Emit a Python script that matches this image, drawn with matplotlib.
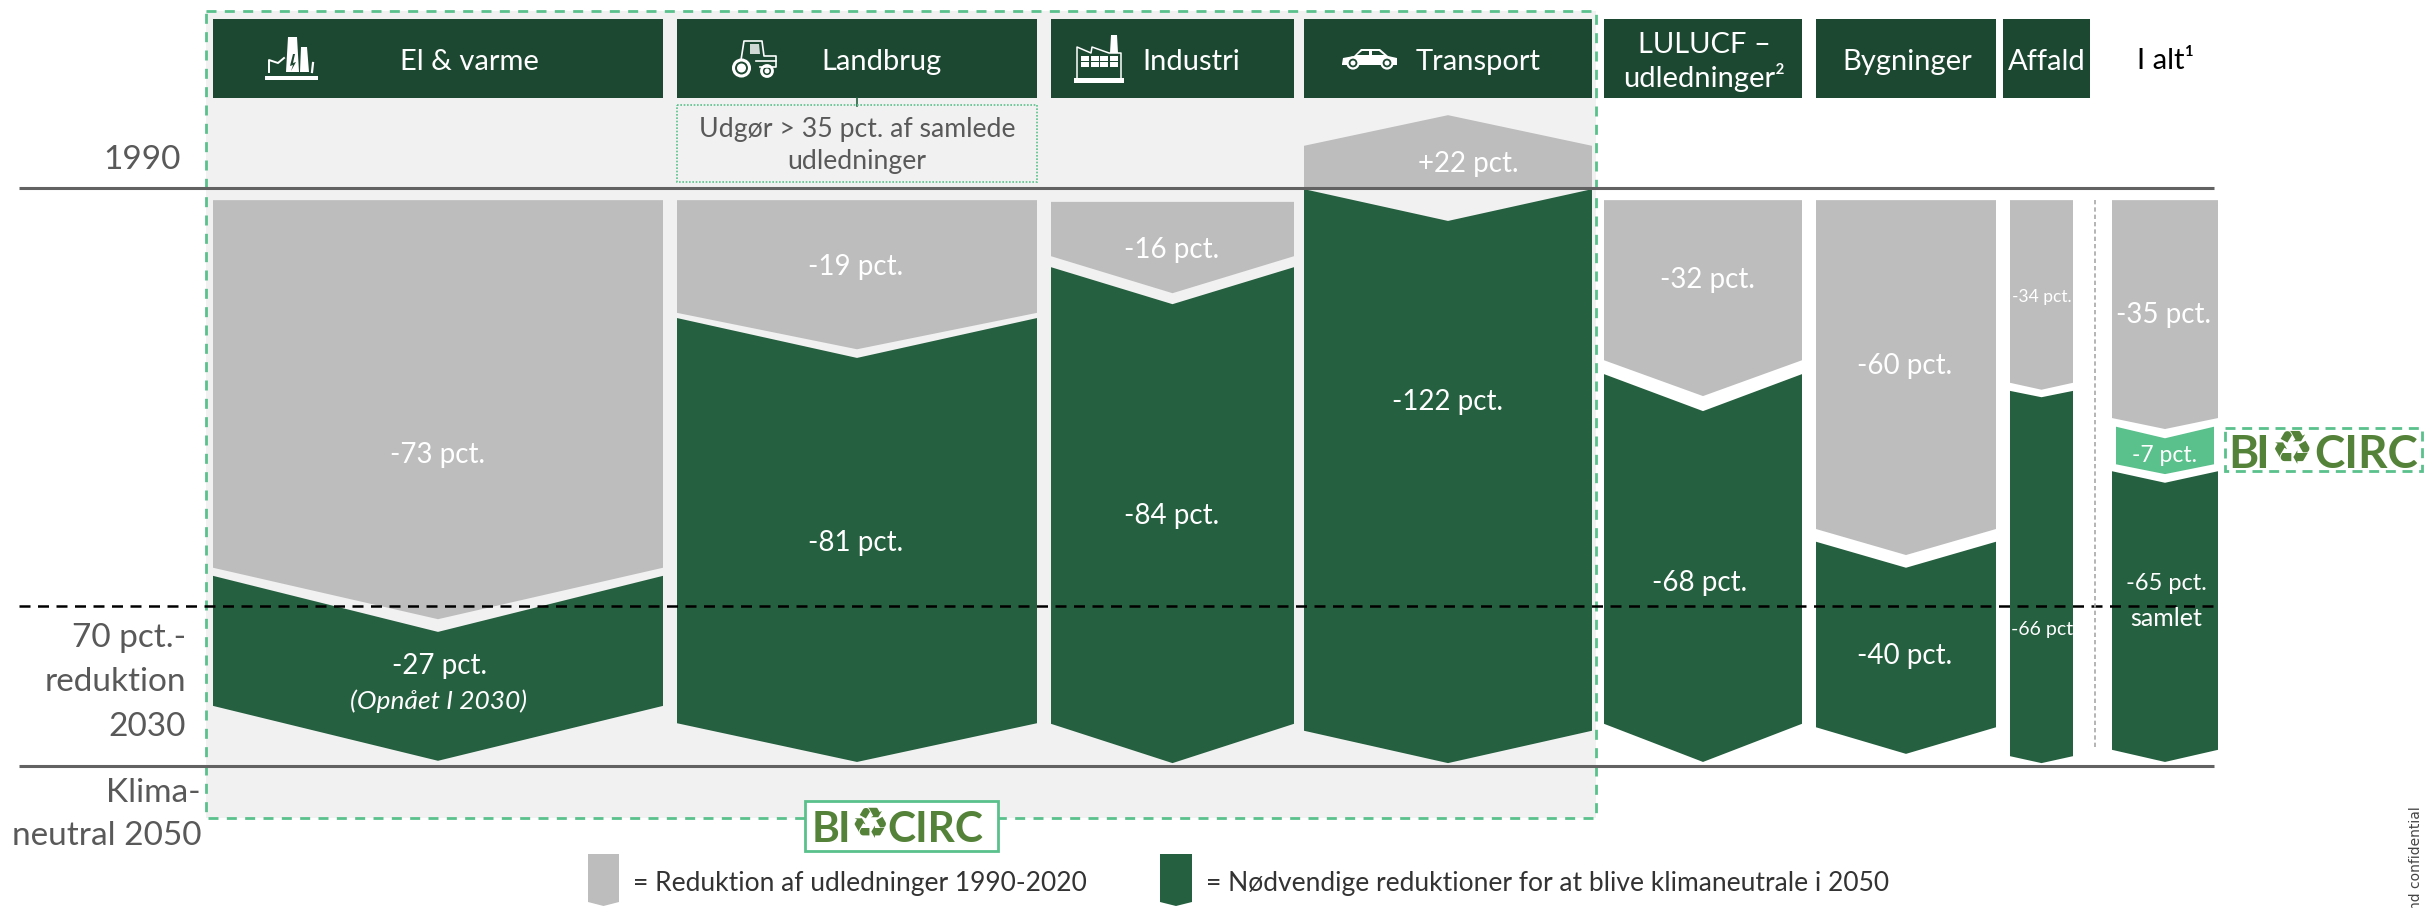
import matplotlib
matplotlib.use("Agg")
import matplotlib.pyplot as plt
from matplotlib.patches import Polygon, Rectangle, Circle

# ---------- data ----------
sectors = ["El & varme", "Landbrug", "Industri", "Transport",
           "LULUCF", "Bygninger", "Affald", "I alt"]
# column widths and the gap before each column (share of the chart's width)
col_widths = [450, 360, 243, 288, 198, 180, 63, 106]
col_gaps = [213, 14, 14, 10, 12, 14, 14, 39]
# levels: 1990 = 100, klimaneutral 2050 = 0
grey_top = [97.9, 97.9, 97.6, 112.6, 97.9, 97.9, 97.9, 97.9]
grey_shoulder = [34.3, 78.4, 88.2, 107.3, 70.2, 41.0, 66.3, 60.2]
grey_tip = [25.4, 72.1, 81.8, 100.0, 64.0, 36.5, 65.1, 58.3]
green_shoulder = [32.9, 77.5, 86.3, 99.8, 67.8, 38.8, 64.9, 51.0]
green_notch = [23.2, 70.6, 79.9, 94.3, 61.4, 34.3, 63.8, 49.0]
green_bottom = [10.4, 7.4, 7.3, 6.1, 7.3, 6.7, 1.7, 2.8]
green_tip = [0.9, 0.7, 0.5, 0.5, 0.7, 2.1, 0.5, 0.7]
# BioCirc's slice of the "I alt" column
bio_levels = [58.7, 56.7, 52.2, 50.5]

grey_labels = ["-73 pct.", "-19 pct.", "-16 pct.", "+22 pct.", "-32 pct.", "-60 pct.", "-34 pct.", "-35 pct."]
green_labels = ["-27 pct.", "-81 pct.", "-84 pct.", "-122 pct.", "-68 pct.", "-40 pct.", "-66 pct", "-65 pct."]
header_labels = ["El & varme", "Landbrug", "Industri", "Transport",
                 "LULUCF –\nudledninger²", "Bygninger", "Affald"]

# ---------- style ----------
W, H = 2433, 908
DARK, GREEN, GREY = "#1C4731", "#256040", "#BDBDBD"
MINT, PANEL, TXT, LOGO = "#5AC08C", "#F1F1F1", "#595959", "#558239"
FONT = ["Lato", "DejaVu Sans"]
plt.rcParams["font.family"] = FONT

fig = plt.figure(figsize=(W / 100, H / 100), dpi=100, facecolor="white")
def layer(z, level=False):
    a = fig.add_axes([0, 0, 1, 1], zorder=z)
    a.set_xlim(0, W)
    if level:
        a.set_ylim((766 - H) / 5.78, 766 / 5.78)
    else:
        a.set_ylim(H, 0)
    a.axis("off")
    a.patch.set_alpha(0)
    return a
bg, ax, fg = layer(0), layer(1, True), layer(2)

# panel
bg.add_patch(Rectangle((206, 11), 1390, 807, fc=PANEL, ec="none"))

# columns
lefts = []
x = 0
for w, g in zip(col_widths, col_gaps):
    x += g
    lefts.append(x)
    x += w

for i, (l, w) in enumerate(zip(lefts, col_widths)):
    r, c = l + w, l + w / 2
    if sectors[i] == "Transport":
        grey = [(l, grey_shoulder[i]), (c, grey_top[i]), (r, grey_shoulder[i]), (r, grey_tip[i]), (l, grey_tip[i])]
    else:
        grey = [(l, grey_top[i]), (r, grey_top[i]), (r, grey_shoulder[i]), (c, grey_tip[i]), (l, grey_shoulder[i])]
    ax.add_patch(Polygon(grey, closed=True, fc=GREY, ec="none"))
    ax.add_patch(Polygon([(l, green_shoulder[i]), (c, green_notch[i]), (r, green_shoulder[i]),
                          (r, green_bottom[i]), (c, green_tip[i]), (l, green_bottom[i])],
                         closed=True, fc=GREEN, ec="none"))
# BioCirc slice
l, w = lefts[-1] + 4, col_widths[-1] - 8
ax.add_patch(Polygon([(l, bio_levels[0]), (l + w / 2, bio_levels[1]), (l + w, bio_levels[0]),
                      (l + w, bio_levels[2]), (l + w / 2, bio_levels[3]), (l, bio_levels[2])],
                     closed=True, fc=MINT, ec="none"))

# headers
hdr_left = lefts[:6] + [2003]
hdr_width = col_widths[:6] + [87]
for l, w in zip(hdr_left, hdr_width):
    bg.add_patch(Rectangle((l, 19), w, 79, fc=DARK, ec="none"))
hdr_x = [469, 881, 1191, 1478, 1704, 1907, 2047]
for t, xx in zip(header_labels, hdr_x):
    fg.text(xx, 62, t, color="white", fontsize=21, ha="center", va="center", linespacing=1.22)
fg.text(2166, 61, "I alt¹", color="black", fontsize=21, ha="center", va="center")

# reference lines
for yy, x1 in [(188, 2214), (766, 2214)]:
    fg.plot([19, x1], [yy, yy], color="#626262", lw=2.2, solid_capstyle="butt")
fg.plot([19, 2213], [606, 606], color="black", lw=1.8, ls=(0, (4.4, 3.0)))
fg.plot([2095, 2095], [200, 748], color="#A8A8A8", lw=1.2, ls=(0, (2.6, 1.8)))

# panel's dashed frame
fg.add_patch(Rectangle((206, 11), 1390, 807, fc="none", ec=MINT, lw=2, ls=(0, (3.6, 3.0))))

# note box
bg.plot([857, 857], [98, 106], color=GREEN, lw=1.2)
fg.add_patch(Rectangle((677, 105), 360, 77, fc="none", ec=MINT, lw=1.2, ls=(0, (1, 1))))
fg.text(857, 130, "Udgør > 35 pct. af samlede", color=TXT, fontsize=19.2, ha="center", va="center")
fg.text(857, 162, "udledninger", color=TXT, fontsize=19.2, ha="center", va="center")

# value labels
grey_xy = [(438, 455), (856, 267), (1172, 250), (1468, 164), (1707, 280), (1905, 366), (2042, 297), (2163, 315)]
green_xy = [(439, 666), (856, 543), (1172, 516), (1448, 402), (1700, 583), (1905, 656), (2042, 629), (2166, 583)]
grey_fs = [20, 20, 20, 20, 20, 20, 12.5, 20]
green_fs = [20, 20, 20, 20, 20, 20, 14, 17]
for t, (xx, yy), fs in zip(grey_labels, grey_xy, grey_fs):
    fg.text(xx, yy, t, color="white", fontsize=fs, ha="center", va="center")
for t, (xx, yy), fs in zip(green_labels, green_xy, green_fs):
    fg.text(xx, yy, t, color="white", fontsize=fs, ha="center", va="center")
fg.text(439, 701, "(Opnået I 2030)", color="white", fontsize=19, style="italic", ha="center", va="center")
fg.text(2165, 455, "-7 pct.", color="white", fontsize=16.5, ha="center", va="center")
fg.text(2166, 618, "samlet", color="white", fontsize=18, ha="center", va="center")

# left labels
for t, xx, yy in [("1990", 181, 160), ("70 pct.-", 186, 638), ("reduktion", 186, 682),
                  ("2030", 186, 727), ("Klima-", 201, 793), ("neutral 2050", 201, 836)]:
    fg.text(xx, yy, t, color=TXT, fontsize=24, ha="right", va="center")

# legend
def legend_mark(l, r, colour):
    c = (l + r) / 2
    fg.add_patch(Polygon([(l, 854), (r, 854), (r, 902), (c, 906), (l, 902)], closed=True, fc=colour, ec="none"))
legend_mark(588, 619, GREY)
legend_mark(1160, 1192, GREEN)
fg.text(633, 883, "= Reduktion af udledninger 1990-2020", color="#333333", fontsize=19, ha="left", va="center")
fg.text(1206, 883, "= Nødvendige reduktioner for at blive klimaneutrale i 2050", color="#333333", fontsize=19, ha="left", va="center")

# logos
def logo(x_b, x_i, x_sym, x_circ, yy, fs, sym_fs):
    for t, xx in (("B", x_b), ("I", x_i), ("CIRC", x_circ)):
        fg.text(xx, yy, t, color=LOGO, fontsize=fs, weight="bold", ha="left", va="center_baseline")
    fg.text(x_sym, yy, "\u267b", color=LOGO, fontsize=sym_fs, family="DejaVu Sans", ha="center", va="center")
fg.add_patch(Rectangle((805, 801), 193, 50, fc="white", ec=MINT, lw=2))
logo(812, 838, 870, 887, 826, 30.5, 31)
fg.add_patch(Rectangle((2225, 428), 197, 43, fc="white", ec=MINT, lw=2, ls=(0, (3.6, 2.4))))
logo(2228, 2255, 2292, 2314, 451, 33, 34)

# rotated footer
fg.text(2416, 806, "nd confidential", rotation=90, family="DejaVu Sans", color="#444444",
        fontsize=10, ha="center", va="top")

# ---------- icons ----------
def poly(pts, fc="white"):
    fg.add_patch(Polygon(pts, closed=True, fc=fc, ec="none"))
# power plant
poly([(265, 76), (318, 76), (318, 80), (265, 80)])
poly([(286, 72), (288, 37), (297, 37), (299, 72)])
poly([(300, 72), (301, 47), (307, 47), (309, 72)])
fg.plot([269, 269, 278, 284], [72, 60, 63, 58], color="white", lw=1.4)
fg.plot([312, 313], [72, 63], color="white", lw=1.6)
poly([(293, 54), (290, 66), (293, 65), (291, 71), (296, 62), (293, 63), (295, 54)], fc=DARK)
# tractor
fg.plot([741, 744, 762, 764, 776, 776, 760], [60, 41, 41, 56, 56, 67, 67], color="white", lw=1.2)
poly([(750, 44), (759, 44), (760, 54), (750, 54)], fc="#CFD8D3")
fg.plot([756, 776], [61, 61], color="white", lw=1.2)
fg.add_patch(Circle((741.5, 68), 8, fc=DARK, ec="white", lw=2.2))
fg.add_patch(Circle((741.5, 68), 4.5, fc="white", ec="none"))
fg.add_patch(Circle((767, 71), 5.5, fc=DARK, ec="white", lw=2))
fg.add_patch(Circle((767, 71), 2.5, fc="white", ec="none"))
# factory
poly([(1074, 78), (1124, 78), (1124, 83), (1074, 83)])
fg.plot([1077, 1077, 1091, 1092, 1109, 1121, 1121], [78, 47, 53, 47, 53, 53, 78], color="white", lw=1.1)
poly([(1110, 53), (1111, 35), (1117, 35), (1118, 53)])
for gx in (1081, 1090.5, 1100, 1109.5):
    for gy in (56, 62):
        fg.add_patch(Rectangle((gx, gy), 8, 5, fc="white", ec="none"))
# car
poly([(1342, 64), (1343, 58), (1354, 56), (1361, 49), (1380, 49), (1388, 56), (1397, 58), (1397, 65), (1342, 65)])
poly([(1357, 55), (1362, 51), (1369, 51), (1369, 55)], fc=DARK)
poly([(1372, 55), (1372, 51), (1379, 51), (1384, 55)], fc=DARK)
for cx in (1353, 1387):
    fg.add_patch(Circle((cx, 63), 5.5, fc=DARK, ec="white", lw=1.6))
    fg.add_patch(Circle((cx, 63), 2.5, fc="white", ec="none"))

fig.savefig("out.png", dpi=100, facecolor="white")
